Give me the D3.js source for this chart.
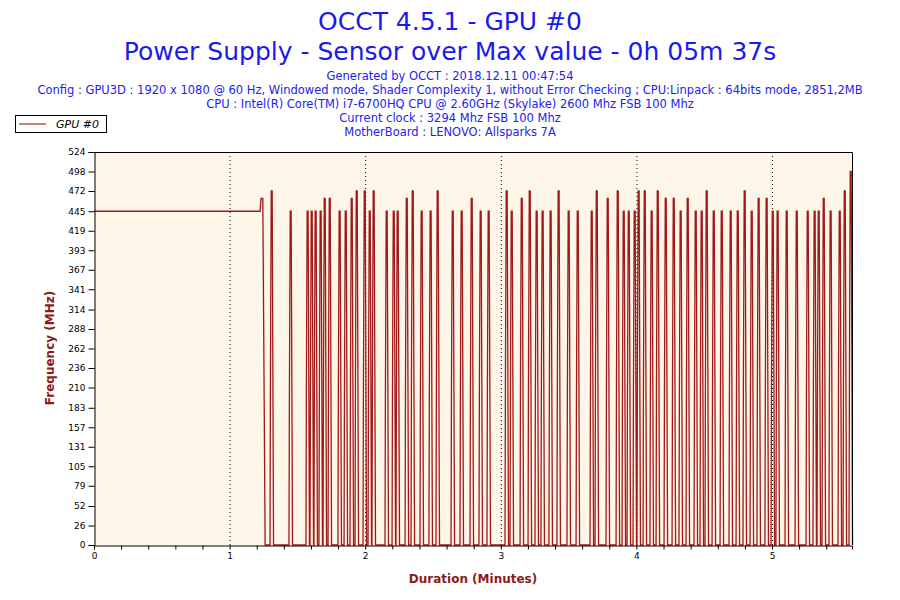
<!DOCTYPE html>
<html><head><meta charset="utf-8">
<script src="https://cdn.jsdelivr.net/npm/d3@7"></script>
<style>body{margin:0;background:#fff}</style>
</head><body>
<div id="chart"></div>
<script>
// flat start segment (minutes, MHz)
var startTimes = [0, 1.225, 1.232, 1.245, 1.262];
var startValues = [445, 445, 462, 462, 0];
// spike start times (minutes) and peak values (MHz)
var spikeTimes = [1.298, 1.438, 1.563, 1.593, 1.622, 1.659, 1.689, 1.726, 1.799, 1.844, 1.888, 1.925, 1.984, 2.021,
  2.050, 2.146, 2.198, 2.227, 2.294, 2.338, 2.404, 2.470, 2.522, 2.633, 2.699, 2.773, 2.839, 2.898, 3.031, 3.068,
  3.142, 3.201, 3.252, 3.296, 3.355, 3.414, 3.488, 3.555, 3.658, 3.695, 3.776, 3.850, 3.894, 3.931, 3.975, 4.004,
  4.049, 4.100, 4.145, 4.204, 4.263, 4.314, 4.366, 4.425, 4.469, 4.506, 4.558, 4.617, 4.683, 4.735, 4.786, 4.838,
  4.889, 4.948, 4.993, 5.029, 5.096, 5.170, 5.251, 5.302, 5.332, 5.369, 5.420, 5.487, 5.524, 5.568];
var spikePeaks = [472, 445, 445, 445, 445, 445, 462, 462, 445, 445, 462, 472, 472, 445,
  472, 445, 445, 445, 462, 472, 445, 445, 472, 445, 445, 462, 445, 445, 472, 445,
  462, 472, 445, 445, 445, 472, 445, 445, 445, 472, 462, 472, 445, 445, 445, 472,
  472, 445, 472, 462, 462, 445, 462, 445, 445, 472, 445, 445, 445, 445, 472, 445,
  462, 462, 445, 445, 445, 445, 445, 445, 445, 462, 445, 445, 472, 498];
var yTicks = [0, 26, 52, 79, 105, 131, 157, 183, 210, 236, 262, 288, 314, 341, 367, 393, 419, 445, 472, 498, 524];
var xTicks = [0, 1, 2, 3, 4, 5];
var headerLines = ["Generated by OCCT : 2018.12.11 00:47:54",
  "Config : GPU3D : 1920 x 1080 @ 60 Hz, Windowed mode, Shader Complexity 1, without Error Checking ; CPU:Linpack : 64bits mode, 2851,2MB",
  "CPU : Intel(R) Core(TM) i7-6700HQ CPU @ 2.60GHz (Skylake) 2600 Mhz FSB 100 Mhz",
  "Current clock : 3294 Mhz FSB 100 Mhz",
  "MotherBoard : LENOVO: Allsparks 7A"];

var points = startTimes.map((t, i) => [t, startValues[i]]);
spikeTimes.forEach(function (t, i) {
  points.push([t, 0], [t + 0.003, spikePeaks[i] * 0.45], [t + 0.009, spikePeaks[i]],
    [t + 0.016, spikePeaks[i]], [t + 0.021, spikePeaks[i] * 0.5], [t + 0.026, 0]);
});

var width = 900, height = 600;
var x0 = 94, x1 = 852, y0 = 545, y1 = 152;
var svg = d3.select("#chart").append("svg").attr("width", width).attr("height", height)
  .style("font-family", "DejaVu Sans, sans-serif");

var x = d3.scaleLinear().domain([0, 5.59]).range([x0, x1]);
var y = d3.scaleLinear().domain([0, 524]).range([y0, y1]);

// titles
svg.append("text").attr("x", 450).attr("y", 30).attr("text-anchor", "middle")
  .style("font-size", "25px").style("fill", "#1a1aee").text("OCCT 4.5.1 - GPU #0");
svg.append("text").attr("x", 450).attr("y", 60).attr("text-anchor", "middle")
  .style("font-size", "25px").style("fill", "#1a1aee").text("Power Supply - Sensor over Max value - 0h 05m 37s");
headerLines.forEach(function (s, i) {
  svg.append("text").attr("x", 450).attr("y", 80 + i * 14).attr("text-anchor", "middle")
    .style("font-size", "11.5px").style("fill", "#2222ee").text(s);
});

// legend
svg.append("rect").attr("x", 15.5).attr("y", 115.5).attr("width", 91).attr("height", 17)
  .attr("fill", "#fff").attr("stroke", "#000");
svg.append("line").attr("x1", 19).attr("x2", 46).attr("y1", 124).attr("y2", 124).attr("stroke", "#8b0000");
svg.append("text").attr("x", 56).attr("y", 128).style("font-size", "11px").style("font-style", "italic").text("GPU #0");

// plot background
svg.append("rect").attr("x", x0).attr("y", y1).attr("width", x1 - x0).attr("height", y0 - y1).attr("fill", "#fdf6e9");

// dotted grid
svg.selectAll(".grid").data(xTicks.slice(1)).enter().append("line")
  .attr("x1", d => x(d) + 0.5).attr("x2", d => x(d) + 0.5).attr("y1", y1).attr("y2", y0)
  .attr("stroke", "#000").attr("stroke-dasharray", "1,3");

// line
svg.append("path").datum(points)
  .attr("d", d3.line().x(d => x(d[0])).y(d => y(d[1])))
  .attr("fill", "none").attr("stroke", "#a01818").attr("stroke-width", 1.3);

// border top/right
svg.append("path").attr("d", `M${x0},${y1 + 0.5}H${x1 + 0.5}V${y0}`).attr("fill", "none").attr("stroke", "#000");

// axes
var yAxis = svg.append("g").attr("transform", `translate(${x0 + 0.5},0)`)
  .call(d3.axisLeft(y).tickValues(yTicks).tickSize(6));
yAxis.selectAll("text").style("font-size", "9px").style("font-family", "DejaVu Sans, sans-serif");
var xAxis = svg.append("g").attr("transform", `translate(0,${y0 + 0.5})`)
  .call(d3.axisBottom(x).tickValues(d3.range(0, 5.6, 0.2)).tickSize(4)
    .tickFormat(d => Math.abs(d - Math.round(d)) < 1e-6 ? String(Math.round(d)) : ""));
xAxis.selectAll("text").style("font-size", "9px").style("font-family", "DejaVu Sans, sans-serif");
svg.selectAll(".domain").attr("stroke", "#000");

svg.append("text").attr("x", 473).attr("y", 583).attr("text-anchor", "middle")
  .style("font-size", "12px").style("font-weight", "bold").style("fill", "#8b1a1a").text("Duration (Minutes)");
svg.append("text").attr("transform", "translate(54,348) rotate(-90)").attr("text-anchor", "middle")
  .style("font-size", "12px").style("font-weight", "bold").style("fill", "#8b1a1a").text("Frequency (MHz)");
</script>
</body></html>
